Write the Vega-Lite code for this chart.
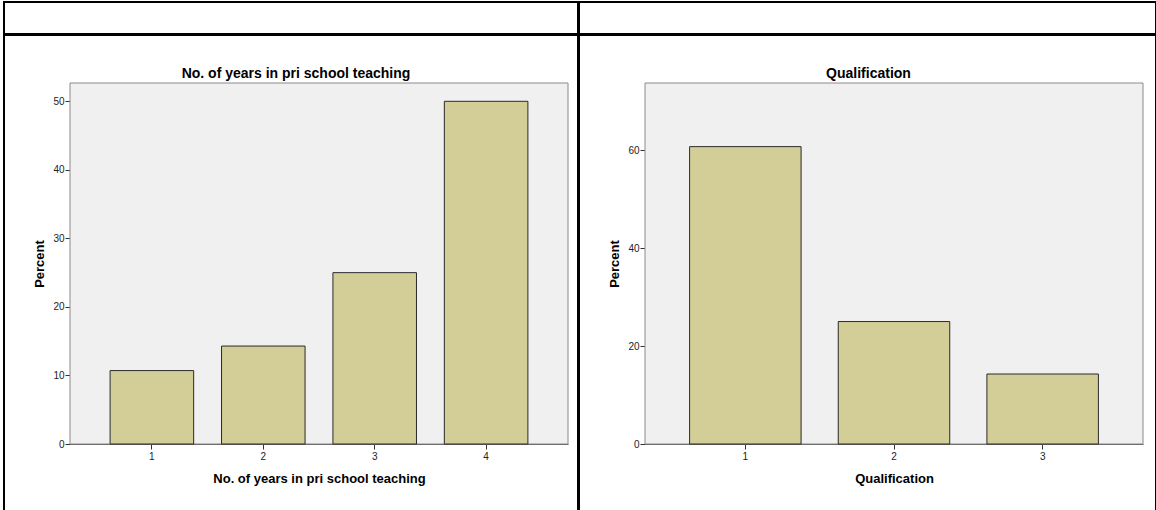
{
  "$schema": "https://vega.github.io/schema/vega-lite/v6.json",
  "padding": {"left": 3, "top": 1, "right": 0, "bottom": 0},
  "background": "white",
  "datasets": {
    "years": [
      {"years": "1", "percent": 10.71},
      {"years": "2", "percent": 14.29},
      {"years": "3", "percent": 25.0},
      {"years": "4", "percent": 50.0}
    ],
    "qual": [
      {"qualification": "1", "percent": 60.71},
      {"qualification": "2", "percent": 25.0},
      {"qualification": "3", "percent": 14.29}
    ],
    "frame": [{"panel": "plot"}],
    "empty": []
  },
  "config": {
    "font": "Liberation Sans",
    "view": {"stroke": "black", "strokeWidth": 2},
    "axis": {
      "grid": false,
      "labelFont": "Liberation Sans",
      "labelFontSize": 10,
      "labelColor": "#222222",
      "titleFont": "Liberation Sans",
      "titleFontSize": 13,
      "titleFontWeight": "bold",
      "titleColor": "#000000",
      "tickColor": "#333333",
      "domainColor": "#555555",
      "tickSize": 5
    },
    "title": {"font": "Liberation Sans", "fontSize": 14, "fontWeight": "bold", "color": "#000000"}
  },
  "spacing": -2,
  "vconcat": [
    {
      "spacing": -2,
      "hconcat": [
        {"width": 574, "height": 32, "view": {"style": "cell", "stroke": "black", "strokeWidth": 2}, "data": {"name": "empty"}, "mark": "text", "encoding": {}},
        {"width": 577, "height": 32, "view": {"style": "cell", "stroke": "black", "strokeWidth": 2}, "data": {"name": "empty"}, "mark": "text", "encoding": {}}
      ]
    },
    {
      "spacing": -2,
      "hconcat": [
        {
          "width": 574,
          "height": 477,
          "title": {"text": "No. of years in pri school teaching", "offset": -57, "dx": 5, "baseline": "alphabetic", "frame": "group"},
          "resolve": {"scale": {"x": "independent"}, "axis": {"x": "independent"}},
          "layer": [
            {
              "data": {"name": "frame"},
              "mark": {"type": "rect", "fill": "#f0f0f0", "stroke": "#8a8a8a", "strokeWidth": 1},
              "encoding": {
                "x": {"datum": 0, "type": "quantitative", "scale": {"domain": [0, 1], "range": [66, 564], "nice": false}, "axis": null},
                "x2": {"datum": 1},
                "y": {"datum": 0, "type": "quantitative", "scale": {"domain": [0, 52.67], "range": [409, 48], "nice": false, "zero": false},
                  "axis": {"title": "Percent", "values": [0, 10, 20, 30, 40, 50], "offset": -66, "labelPadding": 1, "minExtent": 18, "maxExtent": 18, "titlePadding": 6}},
                "y2": {"datum": 52.67}
              }
            },
            {
              "data": {"name": "years"},
              "mark": {"type": "bar", "fill": "#d3ce97", "stroke": "#2a2a2a", "strokeWidth": 1},
              "encoding": {
                "x": {"field": "years", "type": "ordinal", "scale": {"range": [66, 564], "paddingInner": 0.25, "paddingOuter": 0.36},
                  "axis": {"title": "No. of years in pri school teaching", "labelAngle": 0, "offset": -68, "labelPadding": 2, "minExtent": 17, "maxExtent": 17, "titlePadding": 11}},
                "y": {"field": "percent", "type": "quantitative",
                  "axis": {"title": "Percent", "values": [0, 10, 20, 30, 40, 50], "offset": -66, "labelPadding": 1, "minExtent": 18, "maxExtent": 18, "titlePadding": 6}}
              }
            }
          ]
        },
        {
          "width": 577,
          "height": 477,
          "title": {"text": "Qualification", "offset": -57, "dx": 1, "baseline": "alphabetic", "frame": "group"},
          "resolve": {"scale": {"x": "independent"}, "axis": {"x": "independent"}},
          "layer": [
            {
              "data": {"name": "frame"},
              "mark": {"type": "rect", "fill": "#f0f0f0", "stroke": "#8a8a8a", "strokeWidth": 1},
              "encoding": {
                "x": {"datum": 0, "type": "quantitative", "scale": {"domain": [0, 1], "range": [66, 564], "nice": false}, "axis": null},
                "x2": {"datum": 1},
                "y": {"datum": 0, "type": "quantitative", "scale": {"domain": [0, 73.7], "range": [409, 48], "nice": false, "zero": false},
                  "axis": {"title": "Percent", "values": [0, 20, 40, 60], "offset": -66, "labelPadding": 1, "minExtent": 18, "maxExtent": 18, "titlePadding": 6}},
                "y2": {"datum": 73.7}
              }
            },
            {
              "data": {"name": "qual"},
              "mark": {"type": "bar", "fill": "#d3ce97", "stroke": "#2a2a2a", "strokeWidth": 1},
              "encoding": {
                "x": {"field": "qualification", "type": "ordinal", "scale": {"range": [66, 564], "paddingInner": 0.25, "paddingOuter": 0.3},
                  "axis": {"title": "Qualification", "labelAngle": 0, "offset": -68, "labelPadding": 2, "minExtent": 17, "maxExtent": 17, "titlePadding": 11}},
                "y": {"field": "percent", "type": "quantitative",
                  "axis": {"title": "Percent", "values": [0, 20, 40, 60], "offset": -66, "labelPadding": 1, "minExtent": 18, "maxExtent": 18, "titlePadding": 6}}
              }
            }
          ]
        }
      ]
    }
  ]
}
